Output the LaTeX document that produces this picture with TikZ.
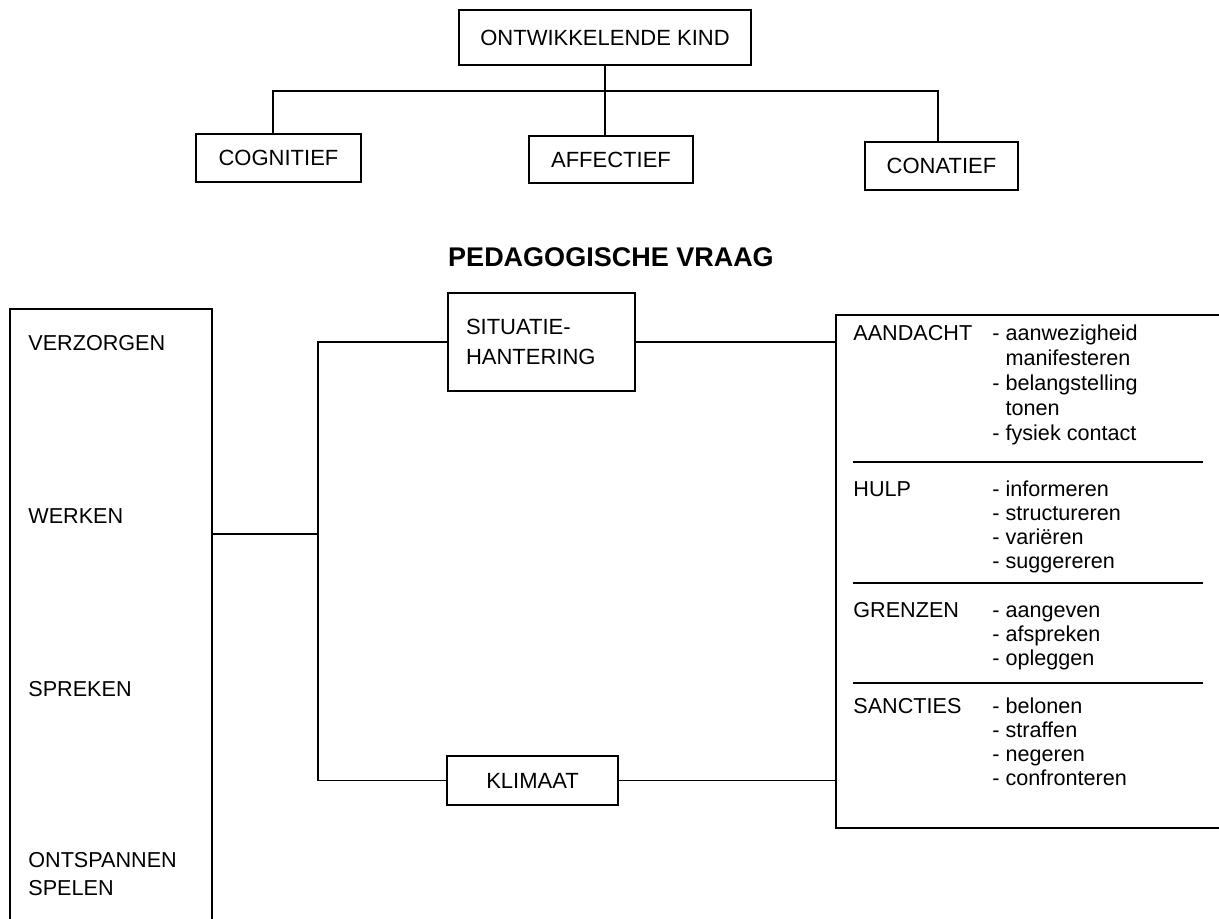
\documentclass[tikz,border=0pt]{standalone}
\usepackage{fontspec}
\setmainfont{Liberation Sans}
\usetikzlibrary{positioning}

\tikzset{
	box/.style={draw, line width=1.2pt, inner sep=0pt, font=\fontsize{11}{14}\selectfont},
	lijn/.style={line width=0.8pt},
	scheiding/.style={line width=1.2pt},
	tekst/.style={anchor=base west, inner sep=0pt, align=left, font=\fontsize{10.8}{14}\selectfont},
	rij/.style={anchor=base west, inner sep=0pt, align=left, font=\fontsize{10.8}{12}\selectfont}
}
\newcommand{\insp}{\hphantom{- }}

\begin{document}
\begin{tikzpicture} [
						x=0.5pt, y=-0.5pt,
						node distance=61pt
					]

\useasboundingbox (0,0) rectangle (1219,918);
\clip (0,0) rectangle (1219,918);

% bovenste boom
\node (kind) [box, minimum width=146pt, minimum height=27.5pt] at (605,37.5) {ONTWIKKELENDE KIND};
\node (affectief) [box, minimum width=82pt, minimum height=23.5pt, below of=kind, xshift=3pt] {AFFECTIEF};
\node (cognitief) [box, minimum width=82.5pt, minimum height=24pt] at (278.5,158) {COGNITIEF};
\node (conatief) [box, minimum width=76.5pt, minimum height=24pt] at (941.5,166) {CONATIEF};
\coordinate (balk) at (605,91);

\draw[lijn] (kind.south) -- (kind.south |- affectief.north);
\draw[lijn] ([xshift=-2.75pt]cognitief.north) |- (balk) -| ([xshift=-1.75pt]conatief.north);

\node (vraag) [font=\bfseries\fontsize{13.5}{16}\selectfont] at (611,257) {PEDAGOGISCHE VRAAG};

% linker kolom (base = laatste regel)
\node (links) [box, minimum width=101pt, minimum height=346pt] at (111,655) {};
\node (verzorgen) [tekst] at (28,350) {VERZORGEN};
\node (werken) [tekst] at (28,523) {WERKEN};
\node (spreken) [tekst] at (28,696) {SPREKEN};
\node (spelen) [tekst] at (28,895) {ONTSPANNEN\\SPELEN};

% midden
\node (situatie) [box, align=left, text width=75.5pt, inner xsep=9pt, minimum height=49pt,
	font=\fontsize{11}{15}\selectfont] at (541.5,342) {SITUATIE-\\HANTERING};
\node (klimaat) [box, minimum width=85.5pt, minimum height=24.5pt] at (532.5,780.5) {KLIMAAT};
\coordinate (splits) at (318,534);

\draw[lijn] (links.east |- splits) -- (splits);
\draw[lijn] (situatie.west) -| (splits) |- (klimaat.west);

% rechter kolom
\node (rechts) [box, minimum width=212pt, minimum height=256.5pt] at (1048,571.5) {};

\draw[lijn] (situatie.east) -- (situatie.east -| rechts.west);
\draw[lijn] (klimaat.east) -- (klimaat.east -| rechts.west);

\foreach \y in {462,583,683}
	\draw[scheiding] (853,\y) -- (1203,\y);

\node (aandacht) [rij] at (853,340) {AANDACHT};
\node (aandacht-l) [rij, font=\fontsize{10.8}{12.5}\selectfont] at (992,440)
	{- aanwezigheid\\\insp manifesteren\\- belangstelling\\\insp tonen\\- fysiek contact};
\node (hulp) [rij] at (853,496) {HULP};
\node (hulp-l) [rij] at (992,568) {- informeren\\- structureren\\- vari\"eren\\- suggereren};
\node (grenzen) [rij] at (853,617) {GRENZEN};
\node (grenzen-l) [rij] at (992,665) {- aangeven\\- afspreken\\- opleggen};
\node (sancties) [rij] at (853,713) {SANCTIES};
\node (sancties-l) [rij] at (992,785) {- belonen\\- straffen\\- negeren\\- confronteren};

\end{tikzpicture}
\end{document}
